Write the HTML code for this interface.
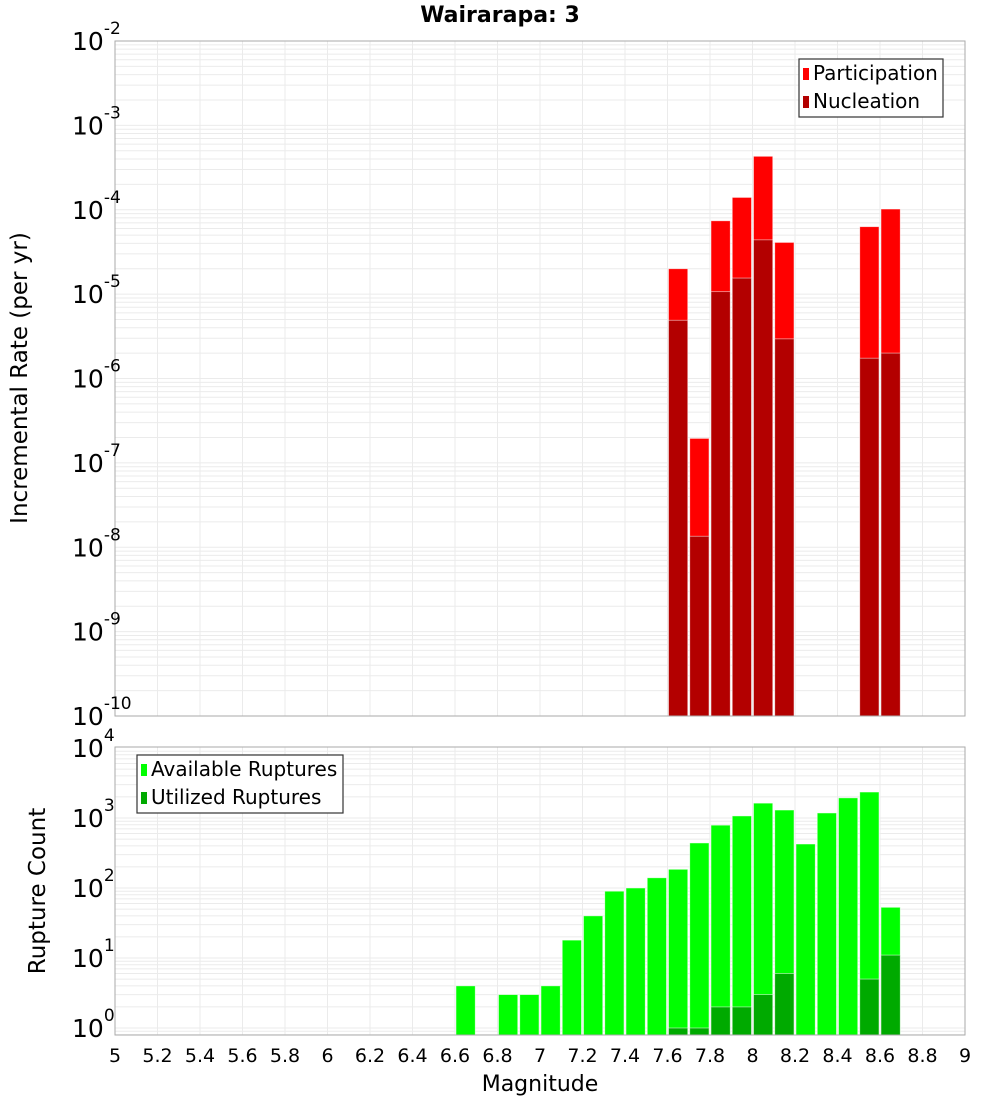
<!DOCTYPE html>
<html><head><meta charset="utf-8"><style>
body{margin:0;background:#fff;}
svg{display:block;font-family:"DejaVu Sans","Liberation Sans",sans-serif;}
</style></head><body>
<svg id="chart" width="1000" height="1100"></svg>
<script>
const binStarts=[6.6,6.8,6.9,7.0,7.1,7.2,7.3,7.4,7.5,7.6,7.7,7.8,7.9,8.0,8.1,8.2,8.3,8.4,8.5,8.6];
const available=[4,3,3,4,18,40,90,100,140,185,440,790,1070,1630,1300,425,1180,1940,2350,53];
const utilBins=[7.6,7.7,7.8,7.9,8.0,8.1,8.5,8.6];
const utilized=[1,1,2,2,3,6,5,11];
const rateBins=[7.6,7.7,7.8,7.9,8.0,8.1,8.5,8.6];
const participation=[2.0e-5,1.95e-7,7.4e-5,1.4e-4,4.3e-4,4.1e-5,6.3e-5,1.02e-4];
const nucleation=[4.9e-6,1.35e-8,1.07e-5,1.55e-5,4.4e-5,2.95e-6,1.74e-6,2.0e-6];
const xTicks=[5,5.2,5.4,5.6,5.8,6,6.2,6.4,6.6,6.8,7,7.2,7.4,7.6,7.8,8,8.2,8.4,8.6,8.8,9];
const topDecades=[-10,-9,-8,-7,-6,-5,-4,-3,-2];
const botDecades=[0,1,2,3,4];

const NS='http://www.w3.org/2000/svg';
const svg=document.getElementById('chart');
function mk(tag,attrs,parent){const e=document.createElementNS(NS,tag);for(const k in attrs)e.setAttribute(k,attrs[k]);(parent||svg).appendChild(e);return e;}
const X0=115,X1=965;
const xs=m=>X0+(m-5)/(4)*(X1-X0);
const T0=41,T1=716;
const yTop=v=>T0+(-2-Math.log10(v))*(T1-T0)/8;
const B0=747,B1=1035;
const yBot=v=>748+(4-Math.log10(v))*70;

function grid(yfn,ytop,ybot,decs,name){
  const g=mk('g',{});
  
  
  for(let i=0;i<decs.length;i++){for(let k=1;k<10;k++){const v=Math.pow(10,decs[i])*k;const y=yfn(v);if(y<ytop-0.5||y>ybot+0.5)continue;mk('line',{x1:X0,x2:X1,y1:y,y2:y,stroke:'#ebebeb','stroke-width':1},g);}}
  for(const t of xTicks){const x=xs(t);mk('line',{x1:x,x2:x,y1:ytop,y2:ybot,stroke:'#ebebeb','stroke-width':1},g);}
}
grid(yTop,T0,T1,topDecades,'top-grid');
grid(yBot,B0,B1,[-1,0,1,2,3],'bottom-grid');

function bars(bins,vals,yfn,base,color,name){
  const g=mk('g',{});
  
  
  bins.forEach((b,i)=>{const xa=xs(b),xb=xs(b+0.1);const y=Math.max(yfn(vals[i]),0);
    const r=mk('rect',{x:xa+1,y:y,width:xb-xa-2,height:base-y,fill:color,stroke:'#fff','stroke-width':0.8,'stroke-opacity':0.6},g);
    
    });
}
bars(rateBins,participation,yTop,T1,'#ff0000','participation');
bars(rateBins,nucleation,yTop,T1,'#b30000','nucleation');
bars(binStarts,available,yBot,B1,'#00ff00','available');
bars(utilBins,utilized,yBot,B1,'#00aa00','utilized');

mk('rect',{x:X0,y:T0,width:X1-X0,height:T1-T0,fill:'none',stroke:'#aaa'});
mk('rect',{x:X0,y:B0,width:X1-X0,height:B1-B0,fill:'none',stroke:'#aaa'});

function txt(x,y,s,attrs,name){const t=mk('text',Object.assign({x:x,y:y},attrs));t.textContent=s;return t;}
function powLabel(y,exp,name){const t=mk('text',{x:72,y:y+9,'font-size':25,fill:'#000'});
  const a=mk('tspan',{},t);a.textContent='10';const b=mk('tspan',{dy:-16,'font-size':17},t);b.textContent=String(exp);}
topDecades.forEach(d=>powLabel(yTop(Math.pow(10,d)),d,'top-y-tick'));
botDecades.forEach(d=>powLabel(yBot(Math.pow(10,d)),d,'bottom-y-tick'));
xTicks.forEach(t=>txt(xs(t),1062,String(t),{'text-anchor':'middle','font-size':19},'x-tick'));

txt(500,22,'Wairarapa: 3',{'text-anchor':'middle','font-size':22,'font-weight':'bold'},'chart-title');
txt(540,1091,'Magnitude',{'text-anchor':'middle','font-size':22},'x-axis-title');
txt(0,0,'Incremental Rate (per yr)',{'text-anchor':'middle','font-size':23,transform:'translate(27,378) rotate(-90)'},'top-y-axis-title');
txt(0,0,'Rupture Count',{'text-anchor':'middle','font-size':23,transform:'translate(45,891) rotate(-90)'},'bottom-y-axis-title');

function legend(x,y,w,items,name){const g=mk('g',{});
  mk('rect',{x:x,y:y,width:w,height:58,fill:'#fff',stroke:'#333','stroke-width':1.2},g);
  items.forEach((it,i)=>{mk('rect',{x:x+4,y:y+9+i*28,width:6,height:12,fill:it[1]},g);
    const t=mk('text',{x:x+14,y:y+21+i*28,'font-size':20},g);t.textContent=it[0];});}
legend(799,59,144,[['Participation','#ff0000'],['Nucleation','#b30000']],'top-legend');
legend(137,755,206,[['Available Ruptures','#00ff00'],['Utilized Ruptures','#00aa00']],'bottom-legend');
</script>
</body></html>
